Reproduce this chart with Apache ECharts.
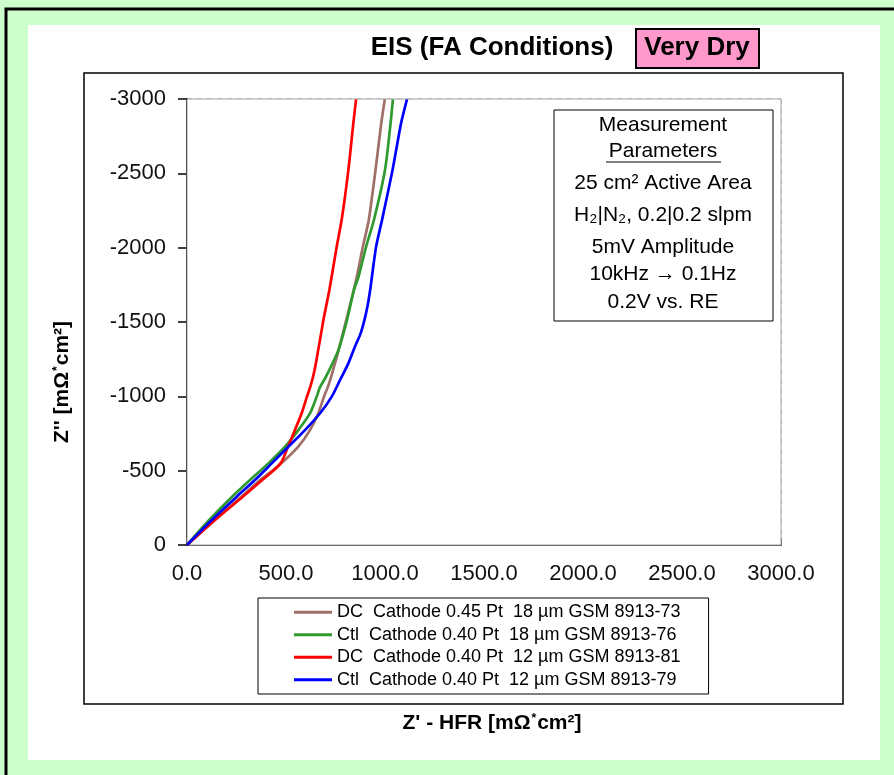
<!DOCTYPE html>
<html>
<head>
<meta charset="utf-8">
<script src="https://cdn.jsdelivr.net/npm/echarts@6/dist/echarts.min.js"></script>
<style>
  html, body { margin: 0; padding: 0; background: #ccffcc; }
  #chart { width: 894px; height: 775px; }
</style>
</head>
<body>
<div id="chart"></div>
<script>
// Nyquist data: [Z' - HFR, Z''] in mOhm*cm2
const seriesNames = [
  'DC  Cathode 0.45 Pt  18 µm GSM 8913-73',
  'Ctl  Cathode 0.40 Pt  18 µm GSM 8913-76',
  'DC  Cathode 0.40 Pt  12 µm GSM 8913-81',
  'Ctl  Cathode 0.40 Pt  12 µm GSM 8913-79'
];
const seriesColors = ['#a07068', '#2f9a2f', '#ff0000', '#0000ff'];

const dc045_18um = [
  [0, 0], [141, -168], [273, -323], [369, -437], [440, -510], [495, -572],
  [562, -661], [621, -773], [663, -886], [692, -998], [712, -1065],
  [733, -1155], [766, -1312], [800, -1491], [834, -1670], [858, -1805],
  [888, -2006], [918, -2186], [952, -2522], [981, -2836], [999, -2998]
];
const ctl040_18um = [
  [0, 0], [112, -168], [228, -325], [318, -437], [411, -549], [495, -661],
  [562, -773], [621, -886], [655, -998], [672, -1063], [697, -1120],
  [727, -1200], [765, -1312], [808, -1513], [843, -1715], [866, -1803],
  [904, -2004], [944, -2186], [1000, -2522], [1028, -2836], [1040, -2998]
];
const dc040_12um = [
  [0, 0], [141, -168], [280, -323], [380, -437], [440, -504], [478, -560],
  [510, -661], [545, -773], [579, -886], [606, -998], [624, -1070],
  [640, -1150], [656, -1260], [689, -1513], [719, -1715], [756, -2006],
  [781, -2186], [815, -2522], [840, -2836], [854, -2998]
];
const ctl040_12um = [
  [0, 0], [125, -168], [251, -325], [343, -437], [428, -549], [512, -661],
  [596, -773], [672, -886], [731, -998], [773, -1110], [815, -1222],
  [848, -1334], [876, -1420], [896, -1513], [912, -1610], [925, -1715],
  [955, -2006], [985, -2186], [1038, -2522], [1081, -2836], [1111, -2998]
];
const seriesData = [dc045_18um, ctl040_18um, dc040_12um, ctl040_12um];

const xTicks = { min: 0, max: 3000, step: 500 };
const yTicks = { min: -3000, max: 0, step: 500 };

const paramLines = [
  'Measurement',
  'Parameters',
  '25 cm² Active Area',
  'H₂|N₂, 0.2|0.2 slpm',
  '5mV Amplitude',
  '10kHz → 0.1Hz',
  '0.2V vs. RE'
];

const FONT = '"Liberation Sans", Arial, Helvetica, sans-serif';

const chart = echarts.init(document.getElementById('chart'), null, { renderer: 'canvas' });

const paramY = [125, 151, 183, 215, 247, 274, 302];
const paramText = paramLines.map((t, i) => ({
  type: 'text', z: 20,
  style: {
    text: t, x: 663, y: paramY[i], align: 'center', verticalAlign: 'middle',
    font: '21px ' + FONT, fill: '#000'
  }
}));

const axisTitleRich = {
  a: { fontSize: 21, fontWeight: 'bold', fontFamily: FONT, fill: '#000', color: '#000' },
  s: { fontSize: 12, fontWeight: 'bold', fontFamily: FONT, fill: '#000', color: '#000',
       verticalAlign: 'top', padding: [0, 1, 8, 1] }
};

const option = {
  backgroundColor: '#ccffcc',
  animation: false,
  grid: {
    left: 187, right: 113, top: 99, bottom: 230,
    show: true, backgroundColor: '#ffffff', borderColor: '#a0a0a0', borderWidth: 1, z: 1
  },
  xAxis: {
    type: 'value', min: xTicks.min, max: xTicks.max, interval: xTicks.step,
    axisLine: { show: true, onZero: false, lineStyle: { color: '#3a3a3a', width: 2 } },
    axisTick: { show: true, inside: true, length: 7, lineStyle: { color: '#3a3a3a', width: 1.5 } },
    axisLabel: { formatter: v => v.toFixed(1), fontSize: 22, fontFamily: FONT, color: '#111', margin: 18 },
    splitLine: { show: true, lineStyle: { color: '#c4c4c4', width: 1.5, type: [5, 5] } }
  },
  yAxis: {
    type: 'value', inverse: true, min: yTicks.min, max: yTicks.max, interval: yTicks.step,
    axisLine: { show: true, onZero: false, lineStyle: { color: '#000', width: 2 } },
    axisTick: { show: true, inside: false, length: 9, lineStyle: { color: '#000', width: 1.5 } },
    axisLabel: { formatter: v => String(v), fontSize: 22, fontFamily: FONT, color: '#111', margin: 21 },
    splitLine: { show: true, lineStyle: { color: '#c4c4c4', width: 1.5, type: [5, 5] } }
  },
  legend: {
    data: seriesNames,
    orient: 'vertical', left: 258, top: 598,
    padding: [3, 28, 3, 36],
    itemWidth: 38, itemHeight: 3, itemGap: 0,
    icon: 'rect',
    backgroundColor: '#fff', borderColor: '#000', borderWidth: 1,
    textStyle: { fontSize: 18, fontFamily: FONT, color: '#000', lineHeight: 22.5 },
    z: 20
  },
  series: seriesNames.map((name, i) => ({
    name, type: 'line', data: seriesData[i],
    showSymbol: false, symbol: 'none', smooth: 0.25, clip: true,
    lineStyle: { color: seriesColors[i], width: 2.7 },
    itemStyle: { color: seriesColors[i] },
    z: 3 + i
  })),
  graphic: [
    // outer frame and white chart area
    { type: 'rect', z: -5, silent: true, shape: { x: 6, y: 9, width: 900, height: 780 },
      style: { fill: '#ccffcc', stroke: '#000', lineWidth: 3 } },
    { type: 'rect', z: -4, silent: true, shape: { x: 28, y: 25, width: 852, height: 735 },
      style: { fill: '#fff' } },
    // plot frame
    { type: 'rect', z: 0, silent: true, shape: { x: 84, y: 73, width: 759, height: 631 },
      style: { fill: 'none', stroke: '#000', lineWidth: 1.5 } },
    // title
    { type: 'text', z: 20,
      style: { text: 'EIS (FA Conditions)', x: 492, y: 48, align: 'center', verticalAlign: 'middle',
        font: 'bold 26px ' + FONT, fill: '#000' } },
    { type: 'rect', z: 20, shape: { x: 636, y: 29, width: 123, height: 39 },
      style: { fill: '#ff99cc', stroke: '#000', lineWidth: 2 } },
    { type: 'text', z: 21,
      style: { text: 'Very Dry', x: 697, y: 48, align: 'center', verticalAlign: 'middle',
        font: 'bold 26px ' + FONT, fill: '#000' } },
    // measurement parameters box
    { type: 'rect', z: 19, shape: { x: 554, y: 110, width: 219, height: 211 },
      style: { fill: '#fff', stroke: '#000', lineWidth: 1 } },
    ...paramText,
    { type: 'line', z: 20, shape: { x1: 606, y1: 162, x2: 721, y2: 162 },
      style: { stroke: '#000', lineWidth: 1.2 } },
    // axis titles
    { type: 'text', z: 20,
      style: {
        text: "{a|Z' - HFR [mΩ}{s|*}{a|cm²]}", x: 492, y: 723, align: 'center', verticalAlign: 'middle',
        rich: axisTitleRich
      } },
    { type: 'text', z: 20, x: 62, y: 382, rotation: Math.PI / 2,
      style: {
        text: "{a|Z'' [mΩ}{s|*}{a|cm²]}", x: 0, y: 0, align: 'center', verticalAlign: 'middle',
        rich: axisTitleRich
      } }
  ]
};

chart.setOption(option);
</script>
</body>
</html>
